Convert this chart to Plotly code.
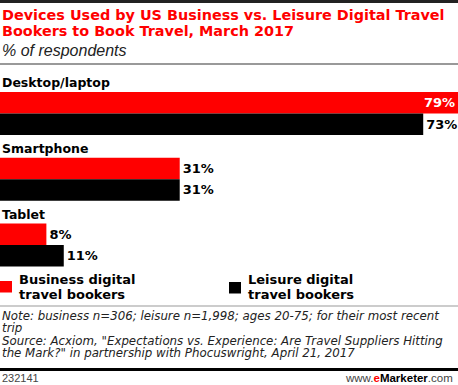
import plotly.graph_objects as go

categories = ["Desktop/laptop", "Smartphone", "Tablet"]
business = [79, 31, 8]
leisure = [73, 31, 11]
series_names = ["Business digital<br>travel bookers", "Leisure digital<br>travel bookers"]

W, H = 458, 385
BOLD = "DejaVu Sans"
ITAL = "DejaVu Sans"

def py(p):
    return 1 - p / H

vfont = dict(family=BOLD, size=13, weight="bold")

fig = go.Figure()
fig.add_trace(go.Bar(
    y=categories, x=business, orientation="h", name=series_names[0],
    marker=dict(color="#ff0000", line=dict(width=0)),
    text=[f"{v}%" for v in business],
    textposition=["inside" if v == max(business) else "outside" for v in business],
    insidetextfont=dict(color="white", **vfont),
    outsidetextfont=dict(color="black", **vfont),
    textangle=0, cliponaxis=False, showlegend=False,
))
fig.add_trace(go.Bar(
    y=categories, x=leisure, orientation="h", name=series_names[1],
    marker=dict(color="#000000", line=dict(width=0)),
    text=[f"{v}%" for v in leisure],
    textposition="outside",
    outsidetextfont=dict(color="black", **vfont),
    textangle=0, cliponaxis=False, showlegend=False,
))

bargap = 0.347
fig.update_layout(
    width=W, height=H, margin=dict(l=0, r=0, t=0, b=0),
    paper_bgcolor="white", plot_bgcolor="white",
    barmode="group", bargap=bargap, bargroupgap=0,
    xaxis=dict(range=[0, 79], domain=[0, 1], visible=False, fixedrange=True),
    yaxis=dict(type="category", categoryorder="array", categoryarray=categories,
               range=[2.5, -0.5], domain=[py(277.9), py(80.6)], visible=False),
    uniformtext=dict(minsize=8, mode="show"),
    font=dict(family=BOLD, color="black"),
)

ann = []
# category labels
for i, c in enumerate(categories):
    ann.append(dict(text=f"<b>{c}</b>", x=0, xref="paper", xanchor="left",
                    y=i - (1 - bargap) / 2, yref="y", yanchor="middle", yshift=9.5,
                    showarrow=False, font=dict(family=BOLD, size=12.5, color="black")))

# title
ann.append(dict(text="<b>Devices Used by US Business vs. Leisure Digital Travel</b>",
                x=0, xref="paper", xanchor="left", y=py(15.5), yref="paper", yanchor="middle",
                showarrow=False, font=dict(family=BOLD, size=14.4, color="#ff0000")))
ann.append(dict(text="<b>Bookers to Book Travel, March 2017</b>",
                x=0, xref="paper", xanchor="left", y=py(31.5), yref="paper", yanchor="middle",
                showarrow=False, font=dict(family=BOLD, size=14.4, color="#ff0000")))
ann.append(dict(text="<i>% of respondents</i>",
                x=0, xref="paper", xanchor="left", y=py(50), yref="paper", yanchor="middle",
                showarrow=False, font=dict(family="Liberation Sans", size=16, color="#222222")))

# legend
leg = [(0, 16.5, "#ff0000", "Business digital", "travel bookers", 281),
       (229, 245.5, "#000000", "Leisure digital", "travel bookers", 282)]
shapes = []
for sx, tx, col, l1, l2, sy in leg:
    shapes.append(dict(type="rect", xref="paper", yref="paper",
                       x0=sx / W, x1=(sx + 12) / W, y0=py(sy + 11.5), y1=py(sy),
                       fillcolor=col, line=dict(width=0)))
    ann.append(dict(text=f"<b>{l1}</b>", x=tx / W, xref="paper", xanchor="left",
                    y=py(279), yref="paper", yanchor="middle", showarrow=False,
                    font=dict(family=BOLD, size=13, color="black")))
    ann.append(dict(text=f"<b>{l2}</b>", x=tx / W, xref="paper", xanchor="left",
                    y=py(294), yref="paper", yanchor="middle", showarrow=False,
                    font=dict(family=BOLD, size=13, color="black")))

# notes
notes = [("Note: business n=306; leisure n=1,998; ages 20-75; for their most recent", 316),
         ("trip", 328),
         ("Source: Acxiom, \"Expectations vs. Experience: Are Travel Suppliers Hitting", 341),
         ("the Mark?\" in partnership with Phocuswright, April 21, 2017", 353)]
for t, yc in notes:
    ann.append(dict(text=f"<i>{t}</i>", x=0, xref="paper", xanchor="left",
                    y=py(yc), yref="paper", yanchor="middle", showarrow=False,
                    font=dict(family=ITAL, size=11.8, color="#222222")))

ann.append(dict(text="232141", x=0, xref="paper", xanchor="left", y=py(377.5), yref="paper",
                yanchor="middle", showarrow=False,
                font=dict(family="Liberation Sans", size=11, color="#444444")))
ann.append(dict(text="<span style='color:#444'>www.</span><b><span style='color:#ff0000'>e</span>Marketer</b><span style='color:#444'>.com</span>",
                x=455 / W, xref="paper", xanchor="right", y=py(377.5), yref="paper",
                yanchor="middle", showarrow=False,
                font=dict(family="Liberation Sans", size=11.5, color="black")))

# rules
shapes.append(dict(type="line", xref="paper", yref="paper", x0=0, x1=1, y0=py(1.5), y1=py(1.5),
                   line=dict(color="#222222", width=3)))
shapes.append(dict(type="line", xref="paper", yref="paper", x0=0, x1=1, y0=py(64), y1=py(64),
                   line=dict(color="#999999", width=2)))
shapes.append(dict(type="line", xref="paper", yref="paper", x0=0, x1=1, y0=py(306), y1=py(306),
                   line=dict(color="#999999", width=1)))
shapes.append(dict(type="line", xref="paper", yref="paper", x0=0, x1=1, y0=py(369.5), y1=py(369.5),
                   line=dict(color="#000000", width=3)))

fig.update_layout(annotations=ann, shapes=shapes)
fig.write_html("out.html", config=dict(displayModeBar=False),
               post_script="document.body.style.margin='0';document.body.style.padding='0';document.body.style.overflow='hidden';")
